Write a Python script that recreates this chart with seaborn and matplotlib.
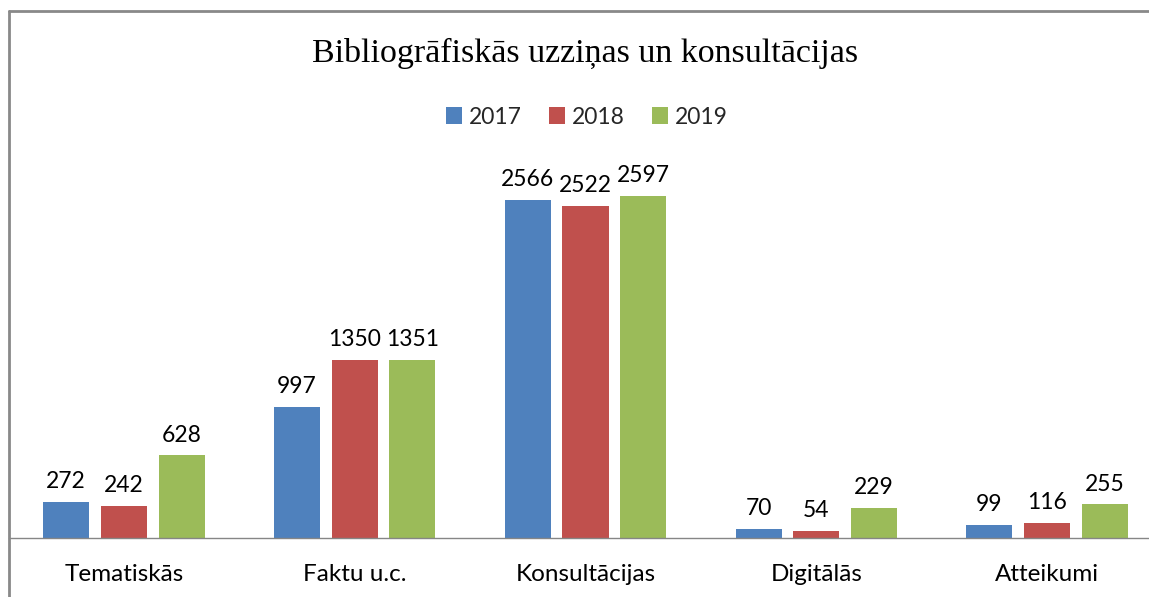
import matplotlib
matplotlib.use("Agg")
import matplotlib.pyplot as plt
import seaborn as sns
import pandas as pd
from matplotlib.lines import Line2D
from matplotlib.patches import Patch

categories = ["Tematiskās", "Faktu u.c.", "Konsultācijas", "Digitālās", "Atteikumi"]
years = ["2017", "2018", "2019"]
v2017 = [272, 997, 2566, 70, 99]
v2018 = [242, 1350, 2522, 54, 116]
v2019 = [628, 1351, 2597, 229, 255]
colors = ["#4F81BD", "#C0504D", "#9BBB59"]

rows = []
for y, vals in zip(years, [v2017, v2018, v2019]):
    for c, v in zip(categories, vals):
        rows.append({"cat": c, "year": y, "val": v})
df = pd.DataFrame(rows)

sns.set_theme(style="white")
plt.rcParams["font.family"] = ["Lato", "DejaVu Sans"]

W, H = 1149, 597
fig = plt.figure(figsize=(W / 100, H / 100), dpi=100)
left = 8.5 / W
width = (1162.5 - 8.5) / W
bottom = (H - 538) / H
height = 395.1 / H
ax = fig.add_axes([left, bottom, width, height])

sns.barplot(data=df, x="cat", y="val", hue="year", palette=colors,
            width=0.75, gap=0.2, saturation=1, ax=ax, legend=False,
            edgecolor="none", errorbar=None)

ax.set_ylim(0, 3000)
ax.set_xlim(-0.5, len(categories) - 0.5)
ax.set_xlabel("")
ax.set_ylabel("")
ax.set_yticks([])
for s in ["top", "right", "left"]:
    ax.spines[s].set_visible(False)
ax.spines["bottom"].set_color("#868686")
ax.spines["bottom"].set_linewidth(1.0)
ax.tick_params(axis="x", length=0, pad=19, labelsize=17.5, colors="#000000")

for cont in ax.containers:
    ax.bar_label(cont, fmt="%d", padding=7, fontsize=16.5, color="#000000")

fig.text(585 / W, 1 - 53 / H, "Bibliogrāfiskās uzziņas un konsultācijas",
         ha="center", va="center", fontsize=24.5, color="#000000",
         family=["Liberation Serif"])

handles = [Patch(facecolor=c, edgecolor="none") for c in colors]
fig.legend(handles, years, loc="center", bbox_to_anchor=(587 / W, 1 - 117 / H),
           ncol=3, frameon=False, fontsize=16.5, handlelength=0.7, handleheight=0.7,
           handletextpad=0.3, columnspacing=1.2)

fig.add_artist(Line2D([9 / W, 1], [1 - 11 / H, 1 - 11 / H], color="#898989", lw=2,
                      transform=fig.transFigure))
fig.add_artist(Line2D([9 / W, 9 / W], [0, 1 - 11 / H], color="#898989", lw=2,
                      transform=fig.transFigure))

fig.savefig("out.png", dpi=100)
